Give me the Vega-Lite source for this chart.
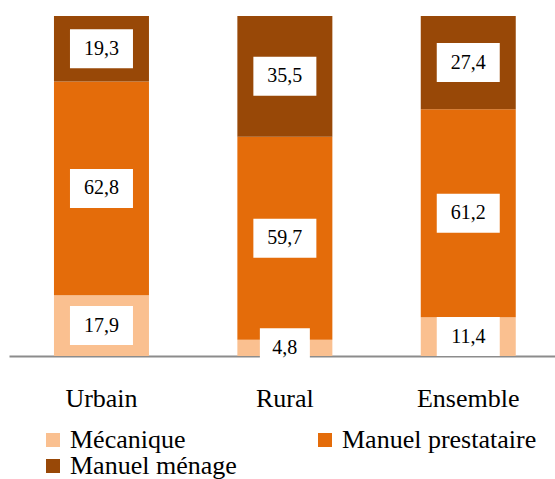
{
  "$schema": "https://vega.github.io/schema/vega-lite/v6.json",
  "autosize": {"type": "none"},
  "padding": {"left": 9, "top": 16, "right": 0, "bottom": 123},
  "width": 546,
  "height": 340,
  "background": "white",
  "data": {
    "values": [
      {"milieu": "Urbain", "type": "Mécanique", "valeur": 17.9},
      {"milieu": "Urbain", "type": "Manuel prestataire", "valeur": 62.8},
      {"milieu": "Urbain", "type": "Manuel ménage", "valeur": 19.3},
      {"milieu": "Rural", "type": "Mécanique", "valeur": 4.8},
      {"milieu": "Rural", "type": "Manuel prestataire", "valeur": 59.7},
      {"milieu": "Rural", "type": "Manuel ménage", "valeur": 35.5},
      {"milieu": "Ensemble", "type": "Mécanique", "valeur": 11.4},
      {"milieu": "Ensemble", "type": "Manuel prestataire", "valeur": 61.2},
      {"milieu": "Ensemble", "type": "Manuel ménage", "valeur": 27.4}
    ]
  },
  "transform": [
    {"calculate": "indexof(['Mécanique','Manuel prestataire','Manuel ménage'], datum.type)", "as": "ordre"},
    {"calculate": "replace(format(datum.valeur, '.1f'), '.', ',')", "as": "etiquette"}
  ],
  "encoding": {
    "x": {
      "field": "milieu",
      "type": "nominal",
      "sort": ["Urbain", "Rural", "Ensemble"],
      "scale": {"paddingInner": 0.482, "paddingOuter": 0.2296, "align": 0.534},
      "axis": {
        "title": null,
        "ticks": false,
        "labelAngle": 0,
        "labelPadding": 29,
        "labelFont": "Liberation Serif, Times New Roman, serif",
        "labelFontSize": 26,
        "labelColor": "#000000",
        "domainColor": "#8c8c8c",
        "domainWidth": 2
      }
    },
    "order": {"field": "ordre", "type": "quantitative", "sort": "ascending"}
  },
  "layer": [
    {
      "mark": {"type": "bar"},
      "encoding": {
        "y": {"field": "valeur", "type": "quantitative", "stack": "zero", "scale": {"domain": [0, 100], "nice": false, "zero": true}, "axis": null},
        "color": {
          "field": "type",
          "type": "nominal",
          "scale": {
            "domain": ["Mécanique", "Manuel prestataire", "Manuel ménage"],
            "range": ["#FAC090", "#E46C0A", "#984807"]
          },
          "legend": {
            "title": null,
            "orient": "none",
            "direction": "horizontal",
            "legendX": 31,
            "legendY": 411,
            "columns": 2,
            "columnPadding": 75,
            "rowPadding": 0,
            "padding": 0,
            "symbolType": "square",
            "symbolSize": 196,
            "symbolStrokeWidth": 0,
            "symbolOpacity": 1,
            "labelFont": "Liberation Serif, Times New Roman, serif",
            "labelFontSize": 26,
            "labelColor": "#000000",
            "labelOffset": 4,
            "labelLimit": 400,
            "labelExpr": "datum.label == 'Mécanique' ? '\u00a0Mécanique' : datum.label"
          }
        }
      }
    },
    {
      "mark": {"type": "point", "filled": true, "fill": "#ffffff", "opacity": 1, "strokeWidth": 0, "size": 1521},
      "encoding": {
        "y": {"field": "valeur", "type": "quantitative", "stack": "zero", "bandPosition": 0.5},
        "detail": {"field": "type"},
        "shape": {
          "condition": {"test": "datum.valeur < 10", "value": "M-1.282,-1L1.282,-1L1.282,1L-1.282,1Z"},
          "value": "M-1.6154,-1L1.6154,-1L1.6154,1L-1.6154,1Z"
        }
      }
    },
    {
      "mark": {"type": "text", "font": "Liberation Serif, Times New Roman, serif", "fontSize": 20, "color": "#000000", "baseline": "middle", "align": "center"},
      "encoding": {
        "y": {"field": "valeur", "type": "quantitative", "stack": "zero", "bandPosition": 0.5},
        "detail": {"field": "type"},
        "text": {"field": "etiquette"}
      }
    }
  ],
  "config": {
    "view": {"stroke": null},
    "font": "Liberation Serif, Times New Roman, serif"
  }
}
